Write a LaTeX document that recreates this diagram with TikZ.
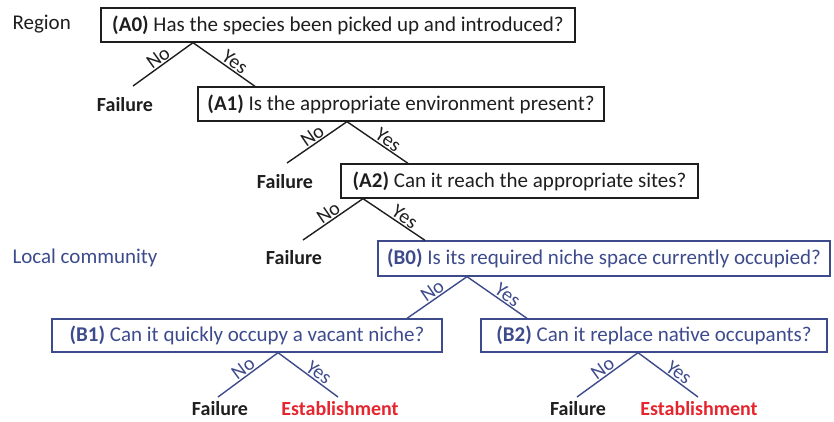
\documentclass[tikz,border=0pt]{standalone}
\usepackage{fontspec}
\setmainfont{Carlito}
\definecolor{qblue}{HTML}{3D4B8C}
\definecolor{ered}{HTML}{E5252E}
\definecolor{ink}{HTML}{1E1E1E}

\begin{document}
\begin{tikzpicture}[x=1pt,y=-1pt,
		qbox/.style={draw=ink,text=ink,line width=1.3pt,minimum height=34pt,inner sep=0pt,font=\fontsize{21}{24}\selectfont},
		bbox/.style={qbox,draw=qblue,text=qblue},
		fail/.style={text=ink,font=\fontsize{20}{23}\selectfont\bfseries},
		estab/.style={fail,text=ered},
		lvl/.style={anchor=west,font=\fontsize{21}{24}\selectfont},
		branch/.style={line width=1.4pt,ink},
		bbranch/.style={branch,qblue},
		lab/.style={sloped,above,pos=0.5,inner sep=1pt,font=\fontsize{20}{22}\selectfont}]
	\useasboundingbox (0,0) rectangle (834,421);
	% levels
	\node[lvl,text=ink] (region) at (9,24) {Region};
	\node[lvl,text=qblue] (local) at (9,258) {Local community};
	% questions
	\node[qbox,minimum width=474pt] (a0) at (338,25) {\textbf{(A0)} Has the species been picked up and introduced?};
	\node[qbox,minimum width=406pt] (a1) at (401,104) {\textbf{(A1)} Is the appropriate environment present?};
	\node[qbox,minimum width=357pt] (a2) at (519.5,181) {\textbf{(A2)} Can it reach the appropriate sites?};
	\node[bbox,minimum width=452pt,minimum height=35pt] (b0) at (604,258.5) {\textbf{(B0)} Is its required niche space currently occupied?};
	\node[bbox,minimum width=390pt,minimum height=33pt] (b1) at (247,335.5) {\textbf{(B1)} Can it quickly occupy a vacant niche?};
	\node[bbox,minimum width=346pt,minimum height=33pt] (b2) at (654,335.5) {\textbf{(B2)} Can it replace native occupants?};
	% outcomes
	\node[fail] (f0) at (125,105) {Failure};
	\node[fail] (f1) at (285,182) {Failure};
	\node[fail] (f2) at (294,258) {Failure};
	\node[fail] (f3) at (220,409) {Failure};
	\node[estab] (e1) at (340,409) {Establishment};
	\node[fail] (f4) at (578,409) {Failure};
	\node[estab] (e2) at (699,409) {Establishment};
	% branch points
	\coordinate (p0) at (193,0 |- a0.south);
	\coordinate (p1) at (347,0 |- a1.south);
	\coordinate (p2) at (363,0 |- a2.south);
	\coordinate (p3) at (467,0 |- b0.south);
	\coordinate (p4) at (278,0 |- b1.south);
	\coordinate (p5) at (638,0 |- b2.south);
	\coordinate (n0) at (133,86);
	\coordinate (n1) at (287,163);
	\coordinate (n2) at (303,240);
	\coordinate (n4) at (218,397);
	\coordinate (y4) at (338,397);
	\coordinate (n5) at (577,397);
	\coordinate (y5) at (698,397);
	% branches
	\draw[branch] (p0) -- node[lab]{No} (n0);
	\draw[branch] (p0) -- node[lab,pos=0.6]{Yes} (255,0 |- a1.north);
	\draw[branch] (p1) -- node[lab]{No} (n1);
	\draw[branch] (p1) -- node[lab,pos=0.6]{Yes} (408,0 |- a2.north);
	\draw[branch] (p2) -- node[lab]{No} (n2);
	\draw[branch] (p2) -- node[lab,pos=0.6]{Yes} (425,0 |- b0.north);
	\draw[bbranch] (p3) -- node[lab,text=qblue]{No} (407,0 |- b1.north);
	\draw[bbranch] (p3) -- node[lab,pos=0.6,text=qblue]{Yes} (527,0 |- b2.north);
	\draw[bbranch] (p4) -- node[lab,text=qblue]{No} (n4);
	\draw[bbranch] (p4) -- node[lab,pos=0.6,text=qblue]{Yes} (y4);
	\draw[bbranch] (p5) -- node[lab,text=qblue]{No} (n5);
	\draw[bbranch] (p5) -- node[lab,pos=0.6,text=qblue]{Yes} (y5);
\end{tikzpicture}
\end{document}
